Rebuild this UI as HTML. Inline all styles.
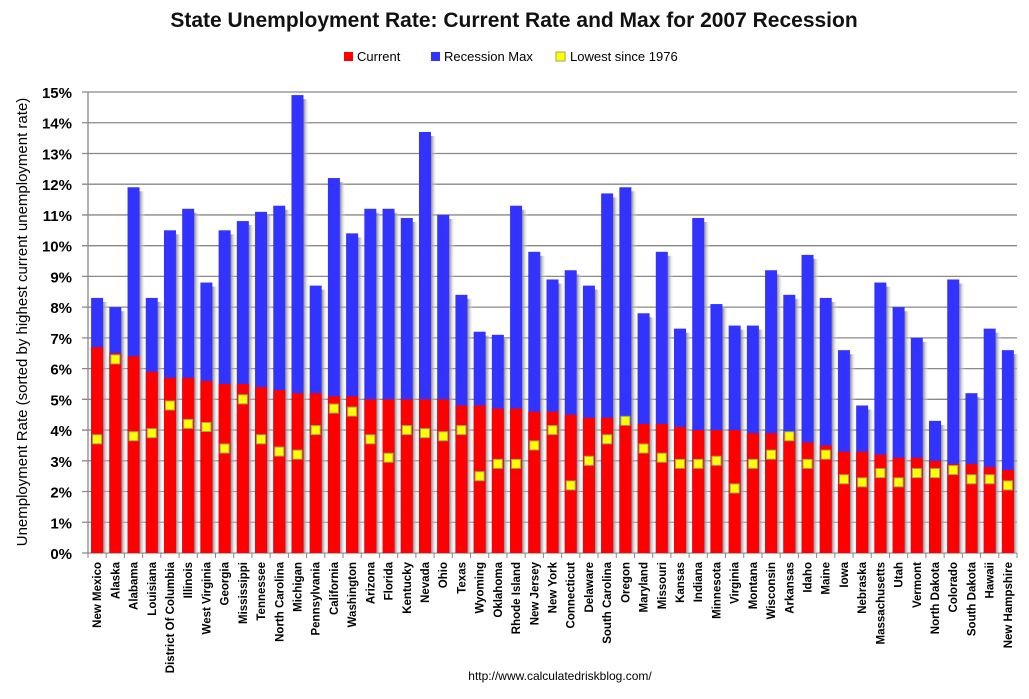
<!DOCTYPE html>
<html><head><meta charset="utf-8"><style>
body{margin:0;background:#fff;}
svg{display:block;font-family:"Liberation Sans",sans-serif;}
</style></head><body>
<svg id="chart" width="1029" height="699">
<defs><linearGradient id="sh" x1="0" x2="1"><stop offset="0" stop-color="#888"/><stop offset="1" stop-color="#fff" stop-opacity="0"/></linearGradient></defs>
<text x="514" y="27" text-anchor="middle" font-size="21" font-weight="bold" fill="#111">State Unemployment Rate: Current Rate and Max for 2007 Recession</text>
<g font-size="13">
<rect x="344" y="52" width="9" height="9" fill="#f00"/><text x="357" y="61">Current</text>
<rect x="431" y="52" width="9" height="9" fill="#33f"/><text x="444" y="61">Recession Max</text>
<rect x="556" y="52" width="9" height="9" fill="#ff0" stroke="#9a5"/><text x="570" y="61">Lowest since 1976</text>
</g>
<text transform="translate(27,322) rotate(-90)" text-anchor="middle" font-size="15">Unemployment Rate (sorted by highest current unemployment rate)</text>
<g id="grid"></g><g id="bars"></g><g id="xl"></g>
<text x="560" y="680" text-anchor="middle" font-size="12">http://www.calculatedriskblog.com/</text>
</svg>
<script>
const states=["New Mexico","Alaska","Alabama","Louisiana","District Of Columbia","Illinois","West Virginia","Georgia","Mississippi","Tennessee","North Carolina","Michigan","Pennsylvania","California","Washington","Arizona","Florida","Kentucky","Nevada","Ohio","Texas","Wyoming","Oklahoma","Rhode Island","New Jersey","New York","Connecticut","Delaware","South Carolina","Oregon","Maryland","Missouri","Kansas","Indiana","Minnesota","Virginia","Montana","Wisconsin","Arkansas","Idaho","Maine","Iowa","Nebraska","Massachusetts","Utah","Vermont","North Dakota","Colorado","South Dakota","Hawaii","New Hampshire"];
const current=[6.7,6.5,6.4,5.9,5.7,5.7,5.6,5.5,5.5,5.4,5.3,5.2,5.2,5.1,5.1,5.0,5.0,5.0,5.0,5.0,4.8,4.8,4.7,4.7,4.6,4.6,4.5,4.4,4.4,4.2,4.2,4.2,4.1,4.0,4.0,4.0,3.9,3.9,3.9,3.6,3.5,3.3,3.3,3.2,3.1,3.1,3.0,2.9,2.9,2.8,2.7];
const recessionMax=[8.3,8.0,11.9,8.3,10.5,11.2,8.8,10.5,10.8,11.1,11.3,14.9,8.7,12.2,10.4,11.2,11.2,10.9,13.7,11.0,8.4,7.2,7.1,11.3,9.8,8.9,9.2,8.7,11.7,11.9,7.8,9.8,7.3,10.9,8.1,7.4,7.4,9.2,8.4,9.7,8.3,6.6,4.8,8.8,8.0,7.0,4.3,8.9,5.2,7.3,6.6];
const lowest=[3.7,6.3,3.8,3.9,4.8,4.2,4.1,3.4,5.0,3.7,3.3,3.2,4.0,4.7,4.6,3.7,3.1,4.0,3.9,3.8,4.0,2.5,2.9,2.9,3.5,4.0,2.2,3.0,3.7,4.3,3.4,3.1,2.9,2.9,3.0,2.1,2.9,3.2,3.8,2.9,3.2,2.4,2.3,2.6,2.3,2.6,2.6,2.7,2.4,2.4,2.2];
const yTicks=[0,1,2,3,4,5,6,7,8,9,10,11,12,13,14,15];
const NS="http://www.w3.org/2000/svg";
const X0=88,X1=1017,Y0=553,Y1=92;
const step=(X1-X0)/states.length;
const y=v=>Y0-(Y0-Y1)*v/15;
const xc=i=>X0+step*(i+0.5);
function mk(t,a,p){const e=document.createElementNS(NS,t);for(const k in a)e.setAttribute(k,a[k]);p.appendChild(e);return e;}
const grid=document.getElementById('grid'),bars=document.getElementById('bars'),xl=document.getElementById('xl');
yTicks.forEach(t=>{
 const l=mk('line',{x1:X0-6,x2:X1,y1:y(t),y2:y(t),stroke:'#888','stroke-width':1.3},grid);
 
 
 const tx=mk('text',{x:X0-16,y:y(t)+6,'text-anchor':'end','font-size':15,'font-weight':'bold'},grid);
 tx.textContent=t+'%';
 
 
});
mk('line',{x1:X0,x2:X0,y1:Y1,y2:Y0,stroke:'#888','stroke-width':1.3},grid);
for(let i=0;i<=states.length;i++){const x=X0+step*i;mk('line',{x1:x,x2:x,y1:Y0,y2:Y0+5,stroke:'#888'},grid);}
const bw=12;
states.forEach((s,i)=>{
 const cx=xc(i);
 const sh=mk('rect',{x:cx+bw/2,y:y(recessionMax[i])+4,width:6,height:Y0-y(recessionMax[i])-4,fill:'url(#sh)'},bars);
 
 
 const bm=mk('rect',{x:cx-bw/2,y:y(recessionMax[i]),width:bw,height:Y0-y(recessionMax[i]),fill:'#33f'},bars);
 
 
 const bc=mk('rect',{x:cx-bw/2,y:y(current[i]),width:bw,height:Y0-y(current[i]),fill:'#f00'},bars);
 
 
 const m=mk('rect',{x:cx-4.5,y:y(lowest[i])-4.5,width:9,height:9,fill:'#ff0',stroke:'#9a5','stroke-width':1},bars);
 
 
 const t=mk('text',{transform:`translate(${cx+4},${Y0+9}) rotate(-90)`,'text-anchor':'end','font-size':11.5,'font-weight':'bold'},xl);
 t.textContent=s;
 
 
});
</script>
</body></html>
